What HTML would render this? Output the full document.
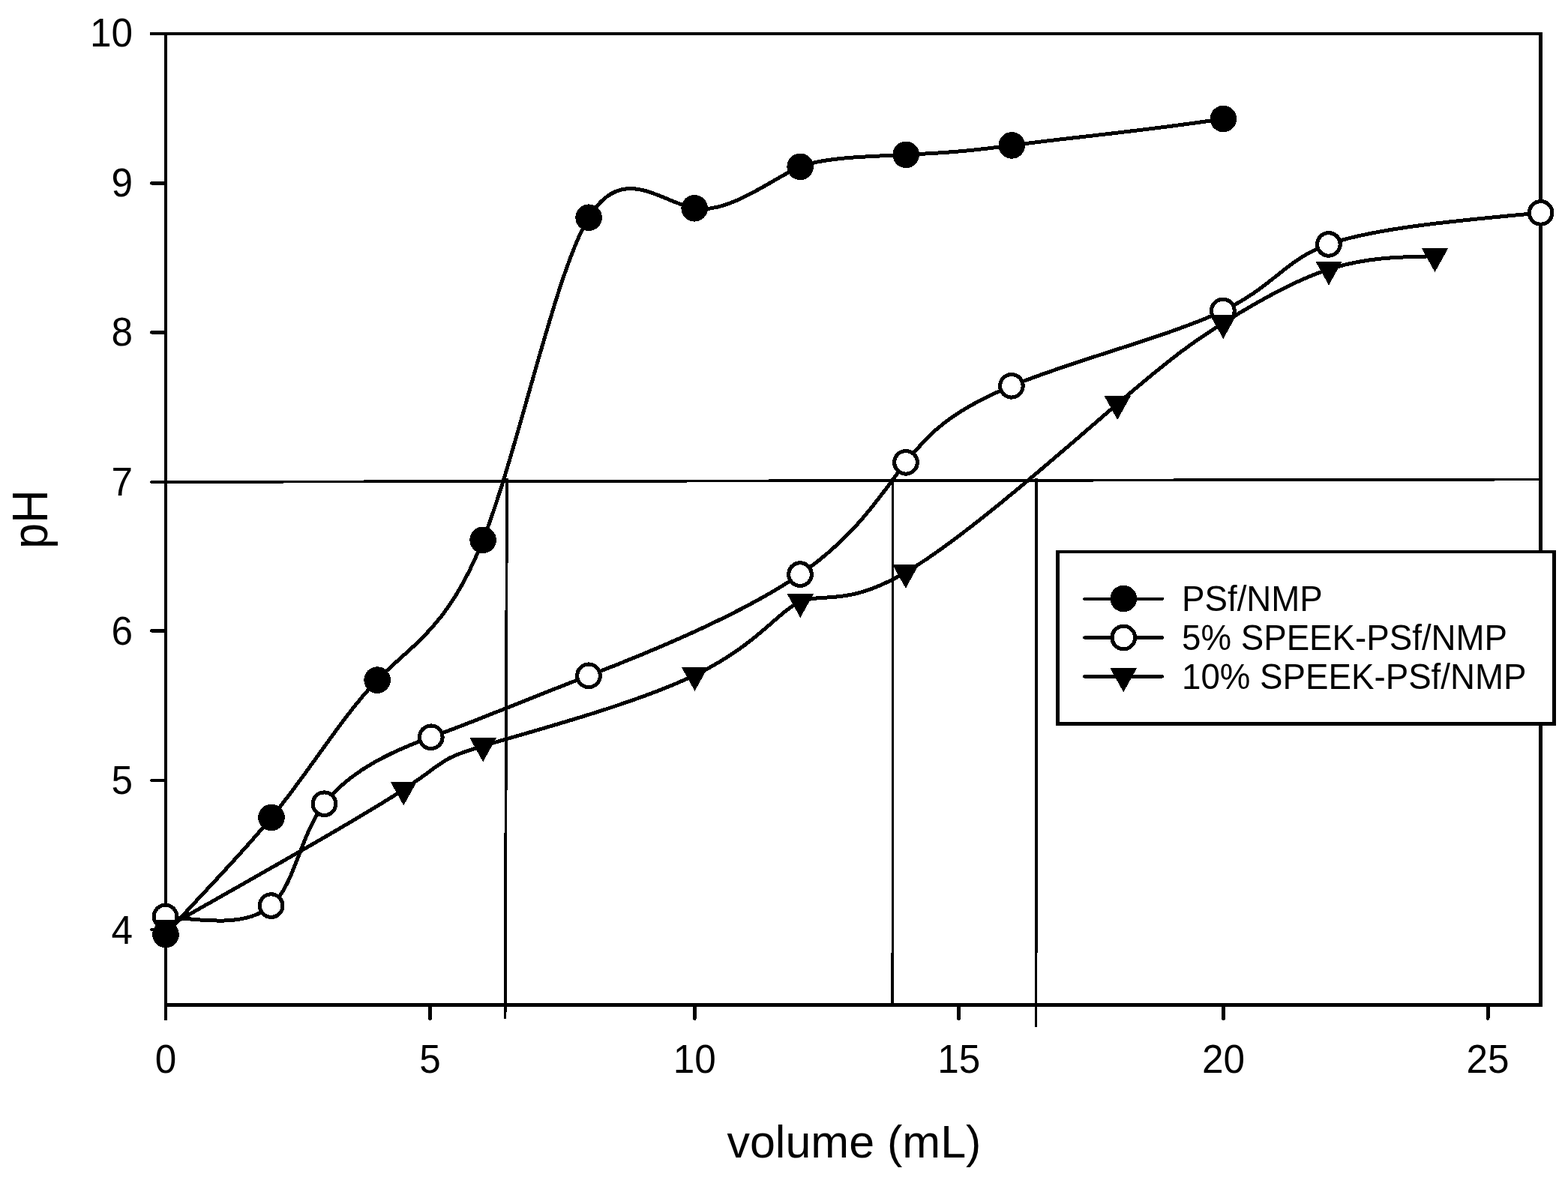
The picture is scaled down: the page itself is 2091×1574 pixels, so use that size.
<!DOCTYPE html>
<html lang="en"><head><meta charset="utf-8"><title>pH titration curves</title>
<style>html,body{margin:0;padding:0;background:#fff;}body{width:2091px;height:1574px;overflow:hidden;}svg{display:block;}text{font-family:"Liberation Sans",sans-serif;fill:#000;}</style>
</head><body>
<svg xmlns="http://www.w3.org/2000/svg" width="2091" height="1574" viewBox="0 0 2091 1574" shape-rendering="crispEdges">
<rect x="0" y="0" width="2091" height="1574" fill="#fff"/>
<g fill="#000" shape-rendering="crispEdges">
<rect x="200" y="43" width="1857" height="4"/>
<rect x="219" y="43" width="4" height="1318"/>
<rect x="2052" y="43" width="5" height="1300"/>
<rect x="219" y="1338" width="1838" height="5"/>
</g>
<g stroke="#000" stroke-width="4.6" stroke-linecap="round" fill="none">
<line x1="202.4" y1="244.5" x2="220" y2="244.5"/>
<line x1="202.4" y1="443.5" x2="220" y2="443.5"/>
<line x1="202.4" y1="643.1" x2="220" y2="643.1"/>
<line x1="202.4" y1="841.5" x2="220" y2="841.5"/>
<line x1="202.4" y1="1041.0" x2="220" y2="1041.0"/>
<line x1="202.4" y1="1240.0" x2="220" y2="1240.0"/>
</g>
<g stroke="#000" stroke-width="5" stroke-linecap="round" fill="none">
<line x1="573.5" y1="1341" x2="573.5" y2="1358.4"/>
<line x1="926.1" y1="1341" x2="926.1" y2="1358.4"/>
<line x1="1278.6" y1="1341" x2="1278.6" y2="1358.4"/>
<line x1="1631.2" y1="1341" x2="1631.2" y2="1358.4"/>
<line x1="1984.0" y1="1341" x2="1984.0" y2="1358.4"/>
</g>
<g stroke="#000" stroke-width="3.8" fill="none" stroke-linecap="butt">
<line x1="221" y1="642.9" x2="2054" y2="639.5"/>
<line x1="676" y1="638.5" x2="673.6" y2="1359"/>
<line x1="1190.6" y1="639" x2="1190.4" y2="1340"/>
<line x1="1381.8" y1="638.5" x2="1381.6" y2="1370"/>
</g>
<g stroke="#000" stroke-width="5.0" fill="none">
<path d="M221.00 1246.60 C265.31 1195.99 313.03 1149.82 362.00 1090.50 C410.97 1031.18 456.82 955.00 503.10 907.10 C549.38 859.20 597.20 838.77 644.10 720.30 C691.00 601.83 740.05 363.92 785.10 290.20 C830.15 216.48 880.03 269.41 926.20 277.80 C972.37 286.19 1033.68 235.74 1067.20 222.40 C1100.72 209.06 1169.25 208.50 1208.20 206.40 C1247.15 204.30 1281.59 203.19 1349.30 193.90 C1417.01 184.61 1527.22 174.55 1631.40 158.50"/>
</g>
<g fill="#000">
<circle cx="221.0" cy="1246.6" r="17.8"/>
<circle cx="362.0" cy="1090.5" r="17.8"/>
<circle cx="503.1" cy="907.1" r="17.8"/>
<circle cx="644.1" cy="720.3" r="17.8"/>
<circle cx="785.1" cy="290.2" r="17.8"/>
<circle cx="926.2" cy="277.8" r="17.8"/>
<circle cx="1067.2" cy="222.4" r="17.8"/>
<circle cx="1208.2" cy="206.4" r="17.8"/>
<circle cx="1349.3" cy="193.9" r="17.8"/>
<circle cx="1631.4" cy="158.5" r="17.8"/>
</g>
<g stroke="#000" stroke-width="5.0" fill="none">
<path d="M220.50 1222.50 C275.05 1228.67 329.83 1235.80 361.60 1208.10 C393.37 1180.40 400.19 1113.70 432.50 1072.20 C464.81 1030.70 516.73 1003.95 574.80 983.30 C632.87 962.65 694.33 936.02 785.00 901.30 C875.67 866.58 991.57 817.82 1067.00 766.10 C1142.43 714.38 1175.98 657.61 1208.00 616.80 C1240.02 575.99 1269.78 547.92 1348.90 514.80 C1428.02 481.68 1560.32 448.42 1630.90 414.50 C1701.48 380.58 1711.39 347.52 1771.90 325.90 C1832.41 304.28 1943.50 294.09 2054.60 283.90"/>
</g>
<g fill="#fff" stroke="#000" stroke-width="5.1">
<circle cx="220.5" cy="1222.5" r="15.3"/>
<circle cx="361.6" cy="1208.1" r="15.3"/>
<circle cx="432.5" cy="1072.2" r="15.3"/>
<circle cx="574.8" cy="983.3" r="15.3"/>
<circle cx="785.0" cy="901.3" r="15.3"/>
<circle cx="1067.0" cy="766.1" r="15.3"/>
<circle cx="1208.0" cy="616.8" r="15.3"/>
<circle cx="1348.9" cy="514.8" r="15.3"/>
<circle cx="1630.9" cy="414.5" r="15.3"/>
<circle cx="1771.9" cy="325.9" r="15.3"/>
<circle cx="2054.6" cy="283.9" r="15.3"/>
</g>
<g stroke="#000" stroke-width="5.0" fill="none">
<path d="M221.00 1237.50 C350.65 1164.16 480.38 1090.94 538.20 1053.20 C596.02 1015.46 582.15 1013.78 644.10 995.00 C706.05 976.22 843.26 940.52 926.50 900.60 C1009.74 860.68 1037.49 815.29 1067.30 802.70 C1097.11 790.11 1128.60 810.00 1207.80 763.50 C1287.00 717.00 1413.89 604.12 1490.20 538.70 C1566.51 473.28 1592.24 455.34 1631.30 430.80 C1670.36 406.26 1722.75 375.13 1772.00 359.20 C1821.25 343.27 1867.38 342.53 1913.50 341.80"/>
</g>
<g fill="#000">
<polygon points="203.2,1226.8 238.8,1226.8 221.0,1258.8"/>
<polygon points="520.5,1042.5 556.0,1042.5 538.2,1074.5"/>
<polygon points="626.4,984.3 661.9,984.3 644.1,1016.3"/>
<polygon points="908.8,889.9 944.2,889.9 926.5,921.9"/>
<polygon points="1049.5,792.0 1085.0,792.0 1067.3,824.0"/>
<polygon points="1190.0,752.8 1225.5,752.8 1207.8,784.8"/>
<polygon points="1472.5,528.0 1508.0,528.0 1490.2,560.0"/>
<polygon points="1613.5,420.1 1649.0,420.1 1631.3,452.1"/>
<polygon points="1754.2,348.5 1789.8,348.5 1772.0,380.5"/>
<polygon points="1895.8,331.1 1931.2,331.1 1913.5,363.1"/>
</g>
<g>
<rect x="1408" y="734" width="667" height="234" fill="#000" shape-rendering="crispEdges"/>
<rect x="1413" y="738" width="657" height="225" fill="#fff" shape-rendering="crispEdges"/>
<g stroke="#000" stroke-width="4.4" stroke-linecap="round">
<line x1="1446.3" y1="798.8" x2="1550" y2="798.8"/>
<line x1="1446.3" y1="850.5" x2="1550" y2="850.5"/>
<line x1="1446.3" y1="902.3" x2="1550" y2="902.3"/>
</g>
<circle cx="1498.3" cy="798.5" r="17.8" fill="#000"/>
<circle cx="1498.3" cy="850.5" r="15.3" fill="#fff" stroke="#000" stroke-width="5.1"/>
<g fill="#000"><polygon points="1480.5,891.3 1516.0,891.3 1498.2,923.3"/></g>
<g font-size="45.7px">
<text transform="translate(1576 815.1) scale(1 1.045)">PSf/NMP</text>
<text transform="translate(1576 867.3) scale(1 1.045)">5% SPEEK-PSf/NMP</text>
<text transform="translate(1576 919.4) scale(1 1.045)">10% SPEEK-PSf/NMP</text>
</g>
</g>
<g font-size="51.3px" text-anchor="end">
<text transform="translate(177 61.6) scale(1 1.030)">10</text>
<text transform="translate(177 261.6) scale(1 1.030)">9</text>
<text transform="translate(177 460.5) scale(1 1.030)">8</text>
<text transform="translate(177 661.0) scale(1 1.030)">7</text>
<text transform="translate(177 859.6) scale(1 1.030)">6</text>
<text transform="translate(177 1059.2) scale(1 1.030)">5</text>
<text transform="translate(177 1259.0) scale(1 1.030)">4</text>
</g>
<g font-size="51.3px" text-anchor="middle">
<text transform="translate(221.0 1430.6) scale(1 1.030)">0</text>
<text transform="translate(573.6 1430.6) scale(1 1.030)">5</text>
<text transform="translate(926.2 1430.6) scale(1 1.030)">10</text>
<text transform="translate(1278.8 1430.6) scale(1 1.030)">15</text>
<text transform="translate(1631.4 1430.6) scale(1 1.030)">20</text>
<text transform="translate(1984.0 1430.6) scale(1 1.030)">25</text>
</g>
<text transform="translate(1138.9 1543.7)" font-size="61px" text-anchor="middle">volume (mL)</text>
<text transform="translate(63.1 692.6) rotate(-90) scale(1 1.07)" font-size="61.5px" text-anchor="middle">pH</text>
</svg>
</body></html>
